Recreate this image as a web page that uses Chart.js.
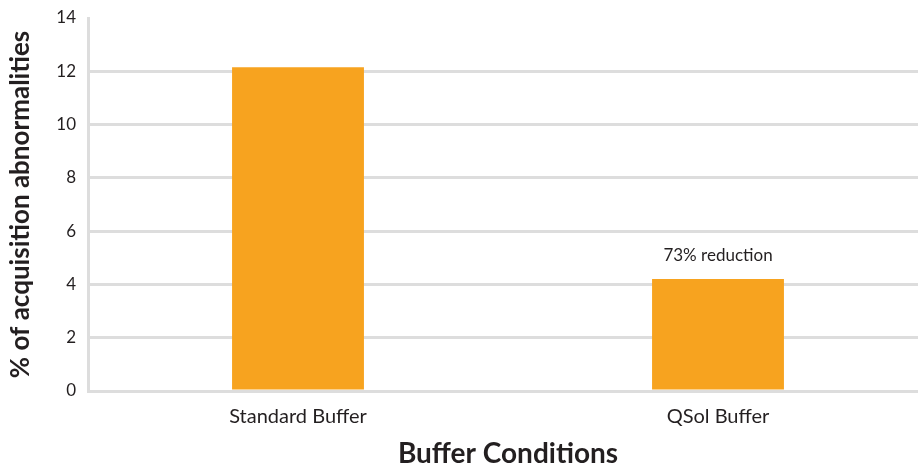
<!DOCTYPE html>
<html lang="en">
<head>
    <meta charset="UTF-8">
    <title>Buffer Conditions</title>
    <script src="https://cdn.jsdelivr.net/npm/chart.js"></script>
    <style>
        html, body { margin: 0; padding: 0; overflow: hidden; background: #fff; }
    </style>
</head>
<body>
    <div style="width: 928px; height: 465px; position: relative">
        <canvas id="myChart"></canvas>
    </div>

    <script>
        // data
        var labels = ['Standard Buffer', 'QSol Buffer'];
        var abnormalities = [12.15, 4.2];
        var yTicks = [0, 2, 4, 6, 8, 10, 12, 14];
        var notes = ['', '73% reduction'];

        const textColor = '#231f20';
        const gridColor = '#dddddd';

        // writes the note above each bar
        const notePlugin = {
            id: 'notes',
            afterDatasetsDraw(chart) {
                const ctx = chart.ctx;
                const xs = chart.scales.x;
                const ys = chart.scales.y;
                ctx.save();
                ctx.fillStyle = textColor;
                ctx.font = '17px Lato';
                ctx.textAlign = 'center';
                ctx.textBaseline = 'bottom';
                notes.forEach(function (n, i) {
                    if (!n) return;
                    ctx.fillText(n, xs.getPixelForValue(i), ys.getPixelForValue(abnormalities[i]) - 15);
                });
                ctx.restore();
            }
        };

        const config = {
            type: 'bar',
            data: {
                labels: labels,
                datasets: [{
                    data: abnormalities,
                    backgroundColor: '#f7a31f',
                    borderWidth: 0,
                    categoryPercentage: 1,
                    barPercentage: 0.314
                }]
            },
            options: {
                responsive: true,
                maintainAspectRatio: false,
                animation: false,
                layout: { padding: { top: 0, right: 0, bottom: 0, left: 0 } },
                plugins: {
                    legend: { display: false },
                    tooltip: { enabled: false }
                },
                scales: {
                    x: {
                        afterFit: function (axis) { axis.height = 74; },
                        grid: { display: false, drawTicks: false },
                        border: { display: false },
                        ticks: { color: textColor, font: { family: 'Lato', size: 20 }, padding: 14 },
                        title: {
                            display: true,
                            text: 'Buffer Conditions',
                            color: textColor,
                            font: { family: 'Lato', size: 28, weight: 'bold', lineHeight: 1 },
                            padding: { top: 0, bottom: -3 }
                        }
                    },
                    y: {
                        min: 0,
                        max: 14,
                        afterFit: function (axis) {
                            axis.width = 88;
                            axis.paddingTop = 18;
                        },
                        afterBuildTicks: function (axis) {
                            axis.ticks = yTicks.map(function (v) { return { value: v }; });
                        },
                        grid: {
                            color: function (c) { return c.tick && c.tick.value === 14 ? 'rgba(0,0,0,0)' : gridColor; },
                            lineWidth: 3,
                            drawTicks: false
                        },
                        border: { display: true, color: gridColor, width: 3 },
                        ticks: { color: textColor, font: { family: 'Lato', size: 17, lineHeight: 1 }, padding: 12 },
                        title: {
                            display: true,
                            text: '% of acquisition abnormalities',
                            color: textColor,
                            font: { family: 'Lato', size: 26, weight: 'bold', lineHeight: 1 },
                            padding: { top: 8, bottom: 0 }
                        }
                    }
                }
            },
            plugins: [notePlugin]
        };

        const ctx = document.getElementById('myChart').getContext('2d');
        const chart = new Chart(ctx, config);
    </script>
</body>
</html>
